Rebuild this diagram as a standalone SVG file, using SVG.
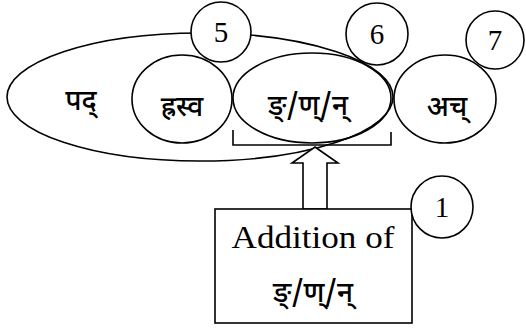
<svg xmlns="http://www.w3.org/2000/svg" width="526" height="329" viewBox="0 0 526 329">
<style>
.s{fill:none;stroke:#000;stroke-width:1.6}
.w{fill:#fff;stroke:#000;stroke-width:1.6}
.dv{font-family:"Noto Sans Devanagari","Noto Serif Devanagari","Lohit Devanagari","Noto Sans",sans-serif;font-size:28px;font-weight:500;text-anchor:middle;fill:#000}
.n{font-family:"Liberation Serif","DejaVu Serif",serif;font-size:29px;text-anchor:middle;fill:#000}
.en{font-family:"Liberation Serif","DejaVu Serif",serif;font-size:32px;text-anchor:middle;fill:#000}
</style>
<g id="pada">
<ellipse class="s" cx="200" cy="97" rx="193" ry="64"/>
<text class="dv" x="81" y="110">पद्</text>
</g>
<g id="hrasva">
<ellipse class="s" cx="182" cy="99" rx="50" ry="44"/>
<text class="dv" x="182" y="116">ह्रस्व</text>
</g>
<g id="nna">
<ellipse class="s" cx="312" cy="98" rx="79" ry="45"/>
<text class="dv" x="308" y="115">ङ्/ण्/न्</text>
</g>
<g id="ac">
<ellipse class="s" cx="445" cy="99" rx="51" ry="44"/>
<text class="dv" x="447" y="116">अच्</text>
</g>
<g id="c5">
<circle class="w" cx="221" cy="32" r="30"/>
<text class="n" x="221" y="42">5</text>
</g>
<g id="c6">
<circle class="w" cx="377" cy="34" r="31"/>
<text class="n" x="377" y="44">6</text>
</g>
<g id="c7">
<circle class="w" cx="495" cy="40" r="29"/>
<text class="n" x="495" y="50">7</text>
</g>
<g id="connectors">
<polyline class="s" points="233,130 233,145 391,145 391,132"/>
<polygon class="w" points="315,147 338,163 327,163 327,209 303,209 303,163 292,163"/>
</g>
<g id="box">
<rect class="w" x="215" y="209" width="197" height="114"/>
<text class="en" x="313" y="248" textLength="163" lengthAdjust="spacingAndGlyphs">Addition of</text>
<text class="dv" x="313" y="302">ङ्/ण्/न्</text>
</g>
<g id="c1">
<circle class="w" cx="442" cy="207" r="31"/>
<text class="n" x="442" y="217">1</text>
</g>
</svg>
